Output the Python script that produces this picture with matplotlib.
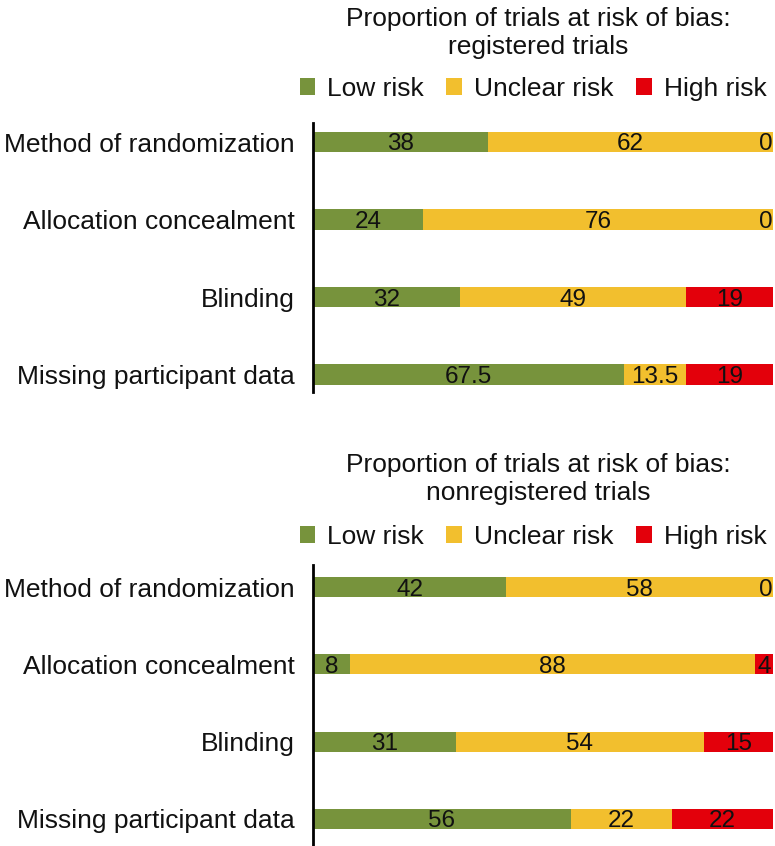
import matplotlib
matplotlib.use("Agg")
import matplotlib.pyplot as plt
from matplotlib.patches import Patch

plt.rcParams['font.family'] = ['Liberation Sans', 'DejaVu Sans']

categories = ["Method of randomization", "Allocation concealment", "Blinding",
              "Missing participant data"]
series_names = ["Low risk", "Unclear risk", "High risk"]
colors = ["#77933C", "#F2BF2E", "#E3000B"]

registered_low = [38, 24, 32, 67.5]
registered_unclear = [62, 76, 49, 13.5]
registered_high = [0, 0, 19, 19]

nonreg_low = [42, 8, 31, 56]
nonreg_unclear = [58, 88, 54, 22]
nonreg_high = [0, 4, 15, 22]

titles = ["Proportion of trials at risk of bias:\nregistered trials",
          "Proportion of trials at risk of bias:\nnonregistered trials"]

W, H = 775, 846
fig = plt.figure(figsize=(W / 100, H / 100), dpi=100)


def fx(px):
    return px / W


def fy(py):
    return 1 - py / H


def panel(ax_top, ax_bot, first_center, spacing, data, title, title_y, legend_y):
    ax = fig.add_axes([fx(313), fy(ax_bot), fx(773) - fx(313), fy(ax_top) - fy(ax_bot)])
    ypos = list(range(len(categories)))
    left = [0] * len(categories)
    for vals, col, name in zip(data, colors, series_names):
        ax.barh(ypos, vals, left=left, height=0.26, color=col, label=name)
        for y, l, v in zip(ypos, left, vals):
            if v == 0:
                ax.text(l, y, f"{v:g}", ha="right", va="center_baseline", fontsize=17.5,
                        color="#111111")
            else:
                ax.text(l + v / 2, y, f"{v:g}", ha="center", va="center_baseline",
                        fontsize=17.5, color="#111111")
        left = [a + b for a, b in zip(left, vals)]
    ax.set_xlim(0, 100)
    top_units = (first_center - ax_top) / spacing
    bot_units = (ax_bot - (first_center + 3 * spacing)) / spacing
    ax.set_ylim(3 + bot_units, -top_units)
    ax.set_yticks(ypos)
    ax.set_yticklabels(categories, fontsize=19, color="#111111")
    ax.tick_params(axis="y", length=0, pad=13)
    ax.set_xticks([])
    for s in ["top", "right", "bottom"]:
        ax.spines[s].set_visible(False)
    ax.spines["left"].set_linewidth(2)
    ax.spines["left"].set_color("black")
    fig.text(fx(538), fy(title_y), title, ha="center", va="center", fontsize=19,
             linespacing=1.2, color="#111111")
    handles = [Patch(facecolor=c, edgecolor="none") for c in colors]
    fig.legend(handles, series_names, loc="center", bbox_to_anchor=(fx(533), fy(legend_y)),
               ncol=3, frameon=False, fontsize=19, handlelength=0.6, handleheight=0.6,
               handletextpad=0.45, columnspacing=0.85, borderaxespad=0, borderpad=0,
               labelcolor="#111111")
    return ax


panel(123, 392, 142, 77.5, [registered_low, registered_unclear, registered_high],
      titles[0], 33, 89)
panel(565, 845, 587, 77.3, [nonreg_low, nonreg_unclear, nonreg_high],
      titles[1], 479, 537)

fig.savefig("out.png", dpi=100)
